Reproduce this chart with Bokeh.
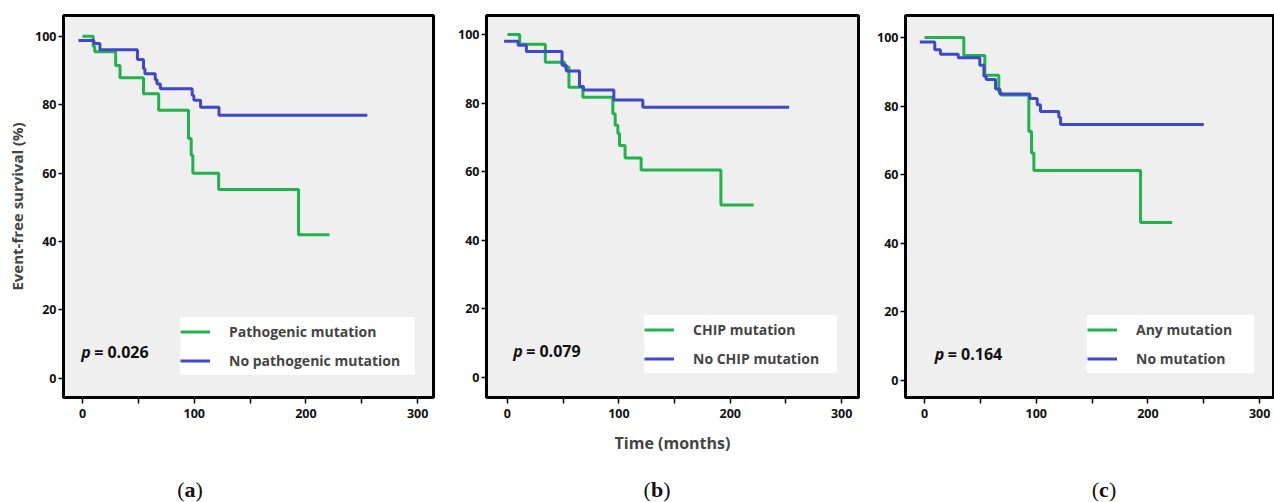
from bokeh.plotting import figure
from bokeh.layouts import row, column
from bokeh.models import Legend, LegendItem, Label, FixedTicker, Range1d, Div
from bokeh.embed import file_html
from bokeh.resources import INLINE

# ---------------- data ----------------
a_path_t = [0, 9.6, 11, 29.7, 33.6, 54.6, 68.2, 94.9, 97.3, 98.8, 121.9, 193.4, 221]
a_path_s = [100, 97, 95.5, 91.5, 87.9, 83.2, 78.4, 70.1, 65.2, 60.0, 55.2, 42.0, 42.0]
a_nopath_t = [-3.6, 10.2, 15.6, 49.2, 54.6, 55.9, 65.1, 66.7, 69.7, 98.2, 99.7, 105.7, 122.2, 255]
a_nopath_s = [98.8, 97.9, 96.1, 93.2, 90.5, 89.1, 87.3, 86.1, 84.7, 82.7, 81.3, 79.3, 76.9, 76.9]

b_chip_t = [0, 11, 34, 51.3, 55.2, 67.7, 94.6, 96.7, 99.1, 100.6, 105.6, 120, 191.6, 221]
b_chip_s = [100, 97.1, 91.9, 90.5, 84.6, 81.7, 76.9, 73.5, 71.1, 67.6, 64.0, 60.5, 50.3, 50.3]
b_nochip_t = [-3, 9.6, 17, 49, 52.8, 64.7, 68.3, 95.5, 121.5, 252.8]
b_nochip_s = [98.0, 96.8, 95.0, 91.0, 89.3, 84.8, 83.8, 80.9, 78.8, 78.8]

c_any_t = [0, 35.2, 54, 66.5, 68.5, 93.4, 95.8, 97.9, 193.4, 221.7]
c_any_s = [100, 94.7, 89.0, 84.2, 83.2, 72.6, 66.3, 61.2, 46.0, 46.0]
c_no_t = [-4.2, 9.2, 14.3, 30.2, 49.5, 53.2, 55.2, 63.6, 67.4, 94.3, 100.9, 103.8, 120.2, 121.8, 250]
c_no_s = [98.7, 96.4, 95.1, 94.1, 91.9, 88.7, 87.7, 85.0, 83.5, 82.2, 80.4, 78.4, 76.7, 74.6, 74.6]

x_ticks = [0, 50, 100, 150, 200, 250, 300]
x_tick_labels = {0: "0", 50: "", 100: "100", 150: "", 200: "200", 250: "", 300: "300"}
y_ticks = [0, 20, 40, 60, 80, 100]

panels = [
    dict(series=[(a_path_t, a_path_s, "Pathogenic mutation"), (a_nopath_t, a_nopath_s, "No pathogenic mutation")],
         p_text="= 0.026", p_x=-1.2, caption="a"),
    dict(series=[(b_chip_t, b_chip_s, "CHIP mutation"), (b_nochip_t, b_nochip_s, "No CHIP mutation")],
         p_text="= 0.079", p_x=5.1, caption="b"),
    dict(series=[(c_any_t, c_any_s, "Any mutation"), (c_no_t, c_no_s, "No mutation")],
         p_text="= 0.164", p_x=9.2, caption="c"),
]

GREEN = "#22b24c"
BLUE = "#3f48cc"
SANS = "Open Sans"
NB = "\u00a0"

# layout geometry per panel
geo = [
    dict(width=455, left=63, right=22, xr=(-17, 314.2), yr=(-5.6, 106.1), leg=(117, 22), pad=4,
         cap_w=380, ylabel="Event-free survival (%)", xlabel=" "),
    dict(width=415, left=30, right=12, xr=(-18.8, 315.1), yr=(-5.8, 105.5), leg=(158, 24), pad=5,
         cap_w=554, ylabel=None, xlabel="Time (months)"),
    dict(width=404, left=35, right=0, xr=(-17, 313.3), yr=(-5.0, 106.4), leg=(182, 24), pad=6,
         cap_w=340, ylabel=None, xlabel=" "),
]

figs = []
caps = []
for pan, g in zip(panels, geo):
    p = figure(width=g["width"], height=460, output_backend="svg", toolbar_location=None,
               x_range=Range1d(*g["xr"]), y_range=Range1d(*g["yr"]),
               min_border_left=g["left"], min_border_right=g["right"],
               min_border_top=15, min_border_bottom=63)
    p.background_fill_color = "#efefef"
    p.border_fill_color = "white"
    p.outline_line_color = "black"
    p.outline_line_width = 3
    p.grid.visible = False

    p.xaxis.ticker = FixedTicker(ticks=x_ticks)
    p.xaxis.major_label_overrides = x_tick_labels
    p.yaxis.ticker = FixedTicker(ticks=y_ticks)
    for ax in (p.xaxis, p.yaxis):
        ax.axis_line_color = None
        ax.minor_tick_line_color = None
        ax.major_tick_in = 0
        ax.major_tick_line_color = "black"
        ax.major_tick_line_width = 1.5
        ax.major_label_text_font = SANS
        ax.major_label_text_font_style = "bold"
        ax.major_label_text_font_size = "12.5px"
        ax.major_label_text_color = "#111111"
    p.xaxis.major_tick_out = 6
    p.xaxis.major_label_standoff = 5
    p.yaxis.major_tick_out = 5
    p.yaxis.major_label_standoff = 2

    p.xaxis.axis_label = g["xlabel"]
    p.xaxis.axis_label_text_font = SANS
    p.xaxis.axis_label_text_font_style = "bold"
    p.xaxis.axis_label_text_font_size = "16px"
    p.xaxis.axis_label_standoff = 11
    if g["ylabel"]:
        p.yaxis.axis_label = g["ylabel"]
        p.yaxis.axis_label_text_font = SANS
        p.yaxis.axis_label_text_font_style = "bold"
        p.yaxis.axis_label_text_font_size = "15px"
        p.yaxis.axis_label_standoff = 5

    items = []
    for (t, s, name), col in zip(pan["series"], [GREEN, BLUE]):
        r = p.step(t, s, mode="after", line_color=col, line_width=3)
        items.append(LegendItem(label=name + NB * g["pad"], renderers=[r]))

    leg = Legend(items=items, location=g["leg"], background_fill_color="white", background_fill_alpha=1,
                 border_line_color=None, label_text_font=SANS, label_text_font_style="bold",
                 label_text_font_size="14px", glyph_width=30, glyph_height=29, label_height=29,
                 label_standoff=19, padding=0, spacing=0)
    p.add_layout(leg)

    p.add_layout(Label(x=pan["p_x"], y=7.8, text="p", text_font=SANS, text_font_style="bold italic",
                       text_font_size="16px", text_baseline="middle", text_color="#111111"))
    p.add_layout(Label(x=pan["p_x"], y=7.8, x_offset=13, text=pan["p_text"], text_font=SANS,
                       text_font_style="bold", text_font_size="16px", text_baseline="middle",
                       text_color="#111111"))
    figs.append(p)

    caps.append(Div(text="(<b>%s</b>)" % pan["caption"], width=g["cap_w"], height=42, margin=0,
                    styles={"font-family": "Liberation Serif", "font-size": "22px", "text-align": "center",
                            "line-height": "60px", "color": "#111111"}))

layout = column(row(*figs), row(*caps))
open("out.html", "w").write(file_html(layout, INLINE))
